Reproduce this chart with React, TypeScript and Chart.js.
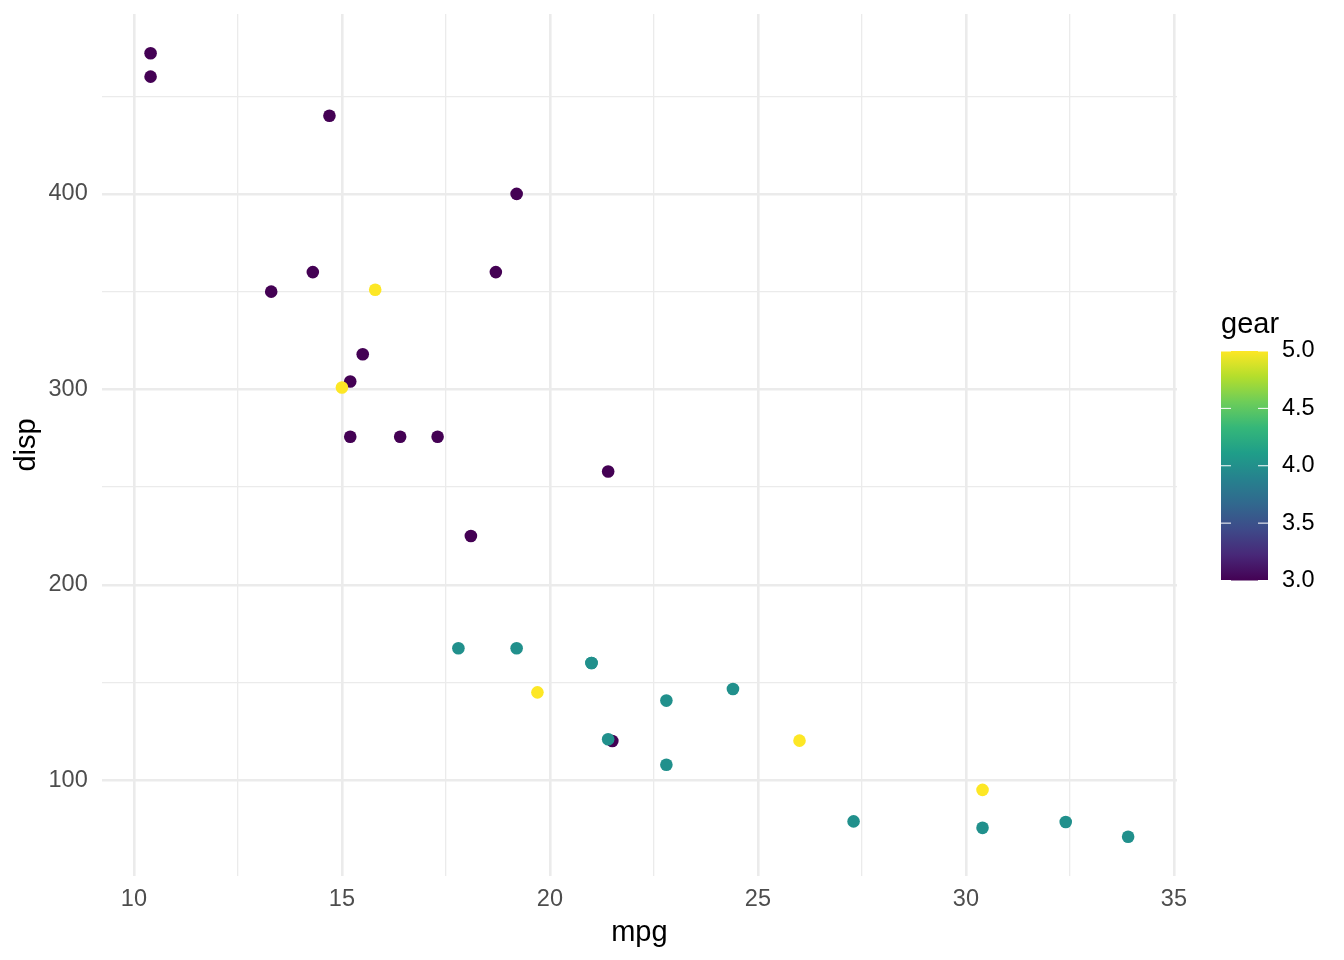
import { useEffect, useRef } from 'react';
import { Chart, registerables, Plugin } from 'chart.js';

Chart.register(...registerables);

// mtcars: mpg vs disp, coloured by gear (row order kept so overlaps stack the same way)
const mpg = [
  21.0, 21.0, 22.8, 21.4, 18.7, 18.1, 14.3, 24.4, 22.8, 19.2, 17.8, 16.4, 17.3, 15.2, 10.4, 10.4,
  14.7, 32.4, 30.4, 33.9, 21.5, 15.5, 15.2, 13.3, 19.2, 27.3, 26.0, 30.4, 15.8, 19.7, 15.0, 21.4,
];
const disp = [
  160, 160, 108, 258, 360, 225, 360, 146.7, 140.8, 167.6, 167.6, 275.8, 275.8, 275.8, 472, 460,
  440, 78.7, 75.7, 71.1, 120.1, 318, 304, 350, 400, 79, 120.3, 95.1, 351, 145, 301, 121,
];
const gear = [
  4, 4, 4, 3, 3, 3, 3, 4, 4, 4, 4, 3, 3, 3, 3, 3, 3, 4, 4, 4, 3, 3, 3, 3, 3, 4, 5, 5, 5, 5, 5, 4,
];
const legendTicks = [3.0, 3.5, 4.0, 4.5, 5.0];

const viridis = [
  '#440154', '#482878', '#3E4A89', '#31688E', '#26828E',
  '#1F9E89', '#35B779', '#6DCD59', '#B4DE2C', '#FDE725',
];
const gearColor: Record<number, string> = { 3: '#440154', 4: '#21908C', 5: '#FDE725' };

const FONT = '"Liberation Sans", Arial, Helvetica, sans-serif';
const GRID = '#EBEBEB';

// colour bar legend drawn on the right of the panel
const colorBar: Plugin = {
  id: 'colorBar',
  afterDraw(chart) {
    const ctx = chart.ctx;
    const x0 = 1221;
    const w = 47;
    const top = 351;
    const bottom = 580.5;
    ctx.save();
    const grad = ctx.createLinearGradient(0, bottom, 0, top);
    viridis.forEach((c, i) => grad.addColorStop(i / (viridis.length - 1), c));
    ctx.fillStyle = grad;
    ctx.fillRect(x0, top, w, bottom - top);

    ctx.strokeStyle = '#FFFFFF';
    ctx.lineWidth = 1;
    ctx.fillStyle = '#000000';
    ctx.font = `23.5px ${FONT}`;
    ctx.textBaseline = 'middle';
    ctx.textAlign = 'left';
    legendTicks.forEach((v) => {
      const y = bottom - ((v - 3) / 2) * (bottom - top);
      ctx.beginPath();
      ctx.moveTo(x0, y);
      ctx.lineTo(x0 + 10, y);
      ctx.moveTo(x0 + w - 10, y);
      ctx.lineTo(x0 + w, y);
      ctx.stroke();
      ctx.fillText(v.toFixed(1), 1282, y);
    });

    ctx.font = `29px ${FONT}`;
    ctx.textBaseline = 'alphabetic';
    ctx.fillText('gear', 1221, 333);
    ctx.restore();
  },
};

const App = () => {
  const canvasRef = useRef<HTMLCanvasElement>(null);
  const chartRef = useRef<Chart | null>(null);

  useEffect(() => {
    if (!canvasRef.current) return;
    if (chartRef.current) chartRef.current.destroy();

    const points = mpg.map((x, i) => ({ x, y: disp[i] }));
    const colors = gear.map((g) => gearColor[g]);

    chartRef.current = new Chart(canvasRef.current, {
      type: 'scatter',
      data: {
        datasets: [
          {
            label: 'gear',
            data: points,
            backgroundColor: colors,
            borderWidth: 0,
            pointRadius: 6.3,
            pointHoverRadius: 6.3,
          },
        ],
      },
      options: {
        responsive: true,
        maintainAspectRatio: false,
        animation: false,
        layout: { padding: { top: 14, right: 167, left: 0, bottom: 0 } },
        plugins: {
          legend: { display: false },
          tooltip: { enabled: false },
        },
        scales: {
          x: {
            type: 'linear',
            min: 9.225,
            max: 35.075,
            afterFit: (scale) => {
              scale.height = 84;
              scale.paddingLeft = 0;
              scale.paddingRight = 0;
            },
            ticks: {
              stepSize: 2.5,
              includeBounds: false,
              padding: 9,
              color: '#4D4D4D',
              font: { family: FONT, size: 23.5 },
              maxRotation: 0,
              autoSkip: false,
              callback: (v) => (Number(v) % 5 === 0 ? String(v) : ''),
            },
            grid: {
              color: GRID,
              drawTicks: false,
              lineWidth: (c) => (c.tick && c.tick.value % 5 === 0 ? 2.6 : 1.3),
            },
            border: { display: false },
            title: {
              display: true,
              text: 'mpg',
              color: '#000000',
              font: { family: FONT, size: 29 },
              padding: { top: 0, bottom: 10 },
            },
          },
          y: {
            type: 'linear',
            min: 51.055,
            max: 492.045,
            afterFit: (scale) => {
              scale.width = 101.7;
              scale.paddingTop = 0;
              scale.paddingBottom = 0;
            },
            ticks: {
              stepSize: 50,
              includeBounds: false,
              padding: 14,
              color: '#4D4D4D',
              font: { family: FONT, size: 23.5 },
              autoSkip: false,
              callback: (v) => (Number(v) % 100 === 0 ? String(v) : ''),
            },
            grid: {
              color: GRID,
              drawTicks: false,
              lineWidth: (c) => (c.tick && c.tick.value % 100 === 0 ? 2.6 : 1.3),
            },
            border: { display: false },
            title: {
              display: true,
              text: 'disp',
              color: '#000000',
              font: { family: FONT, size: 29 },
              padding: { top: 10, bottom: 0 },
            },
          },
        },
      },
      plugins: [colorBar],
    });

    return () => {
      if (chartRef.current) {
        chartRef.current.destroy();
        chartRef.current = null;
      }
    };
  }, []);

  return (
    <div style={{ position: 'absolute', left: 0, top: 0, width: 1344, height: 960, background: '#FFFFFF' }}>
      <canvas ref={canvasRef}></canvas>
    </div>
  );
};

export default App;
